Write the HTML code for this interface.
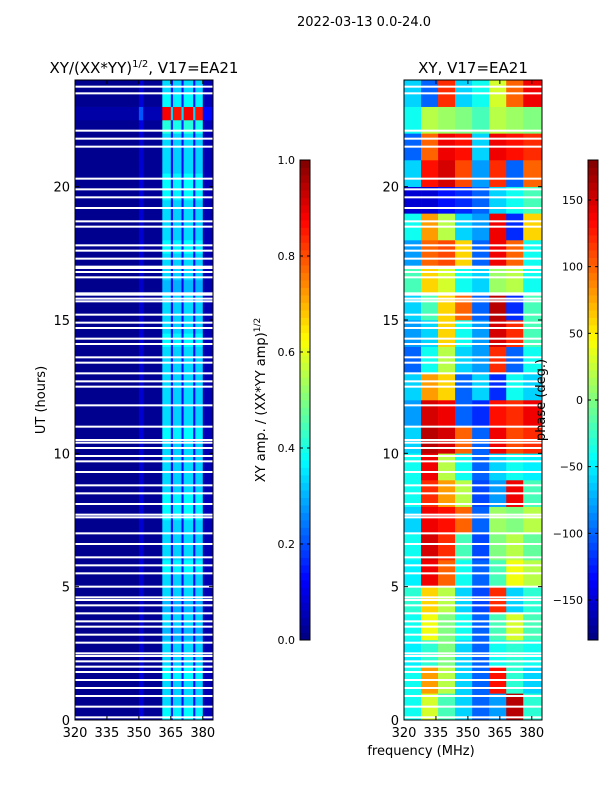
<!DOCTYPE html>
<html><head><meta charset="utf-8">
<style>
html,body{margin:0;padding:0;background:#fff;}
svg{display:block;font-family:"DejaVu Sans","Liberation Sans",sans-serif;}
</style></head>
<body>
<svg id="chart" width="600" height="800" viewBox="0 0 600 800" xmlns="http://www.w3.org/2000/svg">
<rect width="600" height="800" fill="#fff"/>
<text x="364" y="26" font-size="13" text-anchor="middle">2022-03-13 0.0-24.0</text>
<text x="144" y="73" font-size="15" text-anchor="middle">XY/(XX*YY)<tspan font-size="10" dy="-6">1/2</tspan><tspan dy="6">, V17=EA21</tspan></text>
<text x="473" y="73" font-size="15" text-anchor="middle">XY, V17=EA21</text>
<g id="ampPanel"></g>
<g id="phPanel"></g>
<g id="axes"></g>
<g id="cbars"></g>
<text transform="translate(45,400) rotate(-90)" font-size="13" text-anchor="middle">UT (hours)</text>
<text x="421" y="755" font-size="13" text-anchor="middle">frequency (MHz)</text>
<text transform="translate(265,400) rotate(-90)" font-size="13" text-anchor="middle">XY amp. / (XX*YY amp)<tspan font-size="9" dy="-5">1/2</tspan></text>
<text transform="translate(545,400) rotate(-90)" font-size="13" text-anchor="middle">phase (deg.)</text>
</svg>
<script>
// ---- data ----
const xTicks = [320, 335, 350, 365, 380];
const yTicks = [0, 5, 10, 15, 20];
const ampTicks = [0.0, 0.2, 0.4, 0.6, 0.8, 1.0];
const phTicks = [-150, -100, -50, 0, 50, 100, 150];
// amplitude channel profile (band start frequencies, MHz)
const ampChanStart = [320, 350, 352, 361, 365, 366, 370, 371, 375.5, 376.5, 380];
const ampChan = [0.015, 0.08, 0.02, 0.34, 0.13, 0.33, 0.13, 0.34, 0.13, 0.33, 0.05];
// amplitude half-hour scale (index 0 = 0.0-0.5 h ... 47 = 23.5-24 h)
const ampHalfHour = [1.1,1.0,1.0,1.1,1.0,1.0,0.9,1.0,0.9,1.0,1.0,1.1,1.0,1.0,1.0,1.1,1.1,1.0,1.0,1.0,1.0,1.1,1.0,1.0,
                     1.0,1.0,1.0,1.0,1.1,1.0,1.0,1.0,0.9,1.0,1.0,1.1,1.0,1.0,1.0,1.1,1.1,1.0,1.0,1.0,1.2,2.6,1.1,1.0];
// phase grid: rows hour 0..23, columns frequency bands
const phBandStart = [320,328,336,344,352,360,368,376];
const phase = [
 [-40,30,-20,-60,-100,-80,160,-30],
 [-40,80,20,-60,-100,130,-30,-60],
 [-50,-30,0,-60,-100,-40,-30,-40],
 [-40,40,0,-40,-100,-20,30,-20],
 [-30,60,20,-60,-110,120,-60,-30],
 [-50,140,100,-40,-100,-20,40,20],
 [-40,150,120,-20,-110,0,20,-10],
 [-60,140,130,100,-100,10,0,20],
 [-40,120,80,20,-110,-80,140,-20],
 [-40,140,20,-40,-100,-60,-40,-50],
 [-60,160,150,100,-100,140,110,120],
 [-80,150,140,-100,-120,130,120,140],
 [-60,80,60,-100,-60,-120,-40,-60],
 [-100,-40,20,-60,-80,120,-100,-40],
 [-80,-60,60,-40,-80,150,120,-20],
 [-60,-20,60,100,-100,160,-120,-20],
 [-20,60,30,-40,-60,10,20,-40],
 [-80,100,110,60,-100,140,100,-40],
 [-40,80,20,-60,-80,140,-120,60],
 [-150,-150,-130,-120,-100,-60,-40,-20],
 [-60,130,150,110,-80,120,-100,100],
 [-100,100,140,130,-60,140,130,120],
 [-40,20,10,0,-20,20,10,0],
 [-60,-100,120,-60,-40,30,100,140]
];
// flagged (blank) time rows, hours
const flagged = [23.75,23.5,22.1,21.8,21.5,20.3,19.9,19.6,19.2,18.7,18.5,17.8,17.6,17.3,17.0,16.95,16.8,16.6,16.0,15.95,15.8,15.7,15.2,14.9,14.7,14.3,14.1,13.6,13.4,13.0,12.7,12.5,11.8,11.0,10.5,10.4,10.2,9.9,9.7,9.3,8.8,8.5,8.1,7.7,7.6,7.0,6.6,6.1,5.8,5.5,5.0,4.6,4.5,4.3,4.0,3.7,3.5,3.2,2.9,2.5,2.4,2.2,2.0,1.8,1.5,1.2,0.9,0.5,0.1];

// ---- geometry ----
const NS = "http://www.w3.org/2000/svg";
const panels = [{x0:75,x1:213,id:'ampPanel'},{x0:404,x1:542,id:'phPanel'}];
const yTop = 80, yBot = 720;
const fMin = 320, fMax = 384.8;
function yScale(h){ return yBot - (h/24)*(yBot-yTop); }
function xScale(p,f){ return p.x0 + (f-fMin)/(fMax-fMin)*(p.x1-p.x0); }
function jet(v){
  v = Math.max(0, Math.min(1, v));
  const r = Math.min(4*v-1.5, -4*v+4.5), g = Math.min(4*v-0.5, -4*v+3.5), b = Math.min(4*v+0.5, -4*v+2.5);
  const c = x => Math.round(255*Math.max(0, Math.min(1, x)));
  return `rgb(${c(r)},${c(g)},${c(b)})`;
}
function mk(tag, attrs, parent){
  const e = document.createElementNS(NS, tag);
  for (const k in attrs) e.setAttribute(k, attrs[k]);
  parent.appendChild(e);
  return e;
}

// amplitude heatmap
const pa = panels[0], ga = document.getElementById('ampPanel');
for (let h = 0; h < ampHalfHour.length; h++) {
  for (let c = 0; c < ampChan.length; c++) {
    const f0 = ampChanStart[c], f1 = c+1 < ampChanStart.length ? ampChanStart[c+1] : fMax;
    const x = xScale(pa, f0), w = xScale(pa, f1) - x;
    const y = yScale((h+1)/2), hh = yScale(h/2) - y;
    const r = mk('rect', {x:x, y:y, width:w+0.3, height:hh+0.3, fill:jet(ampChan[c]*ampHalfHour[h])}, ga);
    
    
  }
}
// phase heatmap
const pp = panels[1], gp = document.getElementById('phPanel');
for (let h = 0; h < 24; h++) {
  for (let c = 0; c < phBandStart.length; c++) {
    const f0 = phBandStart[c], f1 = c+1 < phBandStart.length ? phBandStart[c+1] : fMax;
    const x = xScale(pp, f0), w = xScale(pp, f1) - x;
    const y = yScale(h+1), hh = yScale(h) - y;
    const r = mk('rect', {x:x, y:y, width:w+0.3, height:hh+0.3, fill:jet((phase[h][c]+180)/360)}, gp);
    
    
  }
}
// flagged rows
panels.forEach(p => {
  const g = document.getElementById(p.id);
  flagged.forEach(fh => {
    const r = mk('rect', {x:p.x0, y:yScale(fh)-1, width:p.x1-p.x0, height:2, fill:'#fff'}, g);
    
    
  });
});

// axes
const ax = document.getElementById('axes');
panels.forEach((p, i) => {
  const fr = mk('rect', {x:p.x0, y:yTop, width:p.x1-p.x0, height:yBot-yTop, fill:'none', stroke:'#000', 'stroke-width':1}, ax);
  
  
  xTicks.forEach(t => {
    const x = xScale(p, t);
    mk('line', {x1:x, x2:x, y1:yBot, y2:yBot-4, stroke:'#000'}, ax);
    mk('line', {x1:x, x2:x, y1:yTop, y2:yTop+4, stroke:'#000'}, ax);
    const tx = mk('text', {x:x, y:yBot+17, 'font-size':13, 'text-anchor':'middle'}, ax);
    tx.textContent = t;
    
    
  });
  yTicks.forEach(t => {
    const y = yScale(t);
    mk('line', {x1:p.x0, x2:p.x0+4, y1:y, y2:y, stroke:'#000'}, ax);
    mk('line', {x1:p.x1, x2:p.x1-4, y1:y, y2:y, stroke:'#000'}, ax);
    const ty = mk('text', {x:p.x0-5, y:y+5, 'font-size':13, 'text-anchor':'end'}, ax);
    ty.textContent = t;
    
    
  });
});

// colorbars
const cb = document.getElementById('cbars');
const cbDefs = [
  {x:300, ticks:ampTicks, lo:0, hi:1, fmt:v=>v.toFixed(1), name:'amp-colorbar'},
  {x:588, ticks:phTicks, lo:-180, hi:180, fmt:v=>v<0?'\u2212'+(-v):''+v, name:'phase-colorbar'}
];
const cbTop = 160, cbBot = 640, cbW = 10;
cbDefs.forEach(d => {
  const n = 64;
  for (let i = 0; i < n; i++) {
    const y = cbBot - (i+1)*(cbBot-cbTop)/n;
    const r = mk('rect', {x:d.x, y:y, width:cbW, height:(cbBot-cbTop)/n+0.4, fill:jet((i+0.5)/n)}, cb);
    
    
  }
  const fr = mk('rect', {x:d.x, y:cbTop, width:cbW, height:cbBot-cbTop, fill:'none', stroke:'#000'}, cb);
  
  
  d.ticks.forEach(t => {
    const y = cbBot - (t-d.lo)/(d.hi-d.lo)*(cbBot-cbTop);
    mk('line', {x1:d.x, x2:d.x+3, y1:y, y2:y, stroke:'#000'}, cb);
    mk('line', {x1:d.x+cbW, x2:d.x+cbW-3, y1:y, y2:y, stroke:'#000'}, cb);
    const tx = mk('text', {x:d.x-5, y:y+4, 'font-size':11, 'text-anchor':'end'}, cb);
    tx.textContent = d.fmt(t);
    
    
  });
});
</script>
</body></html>
